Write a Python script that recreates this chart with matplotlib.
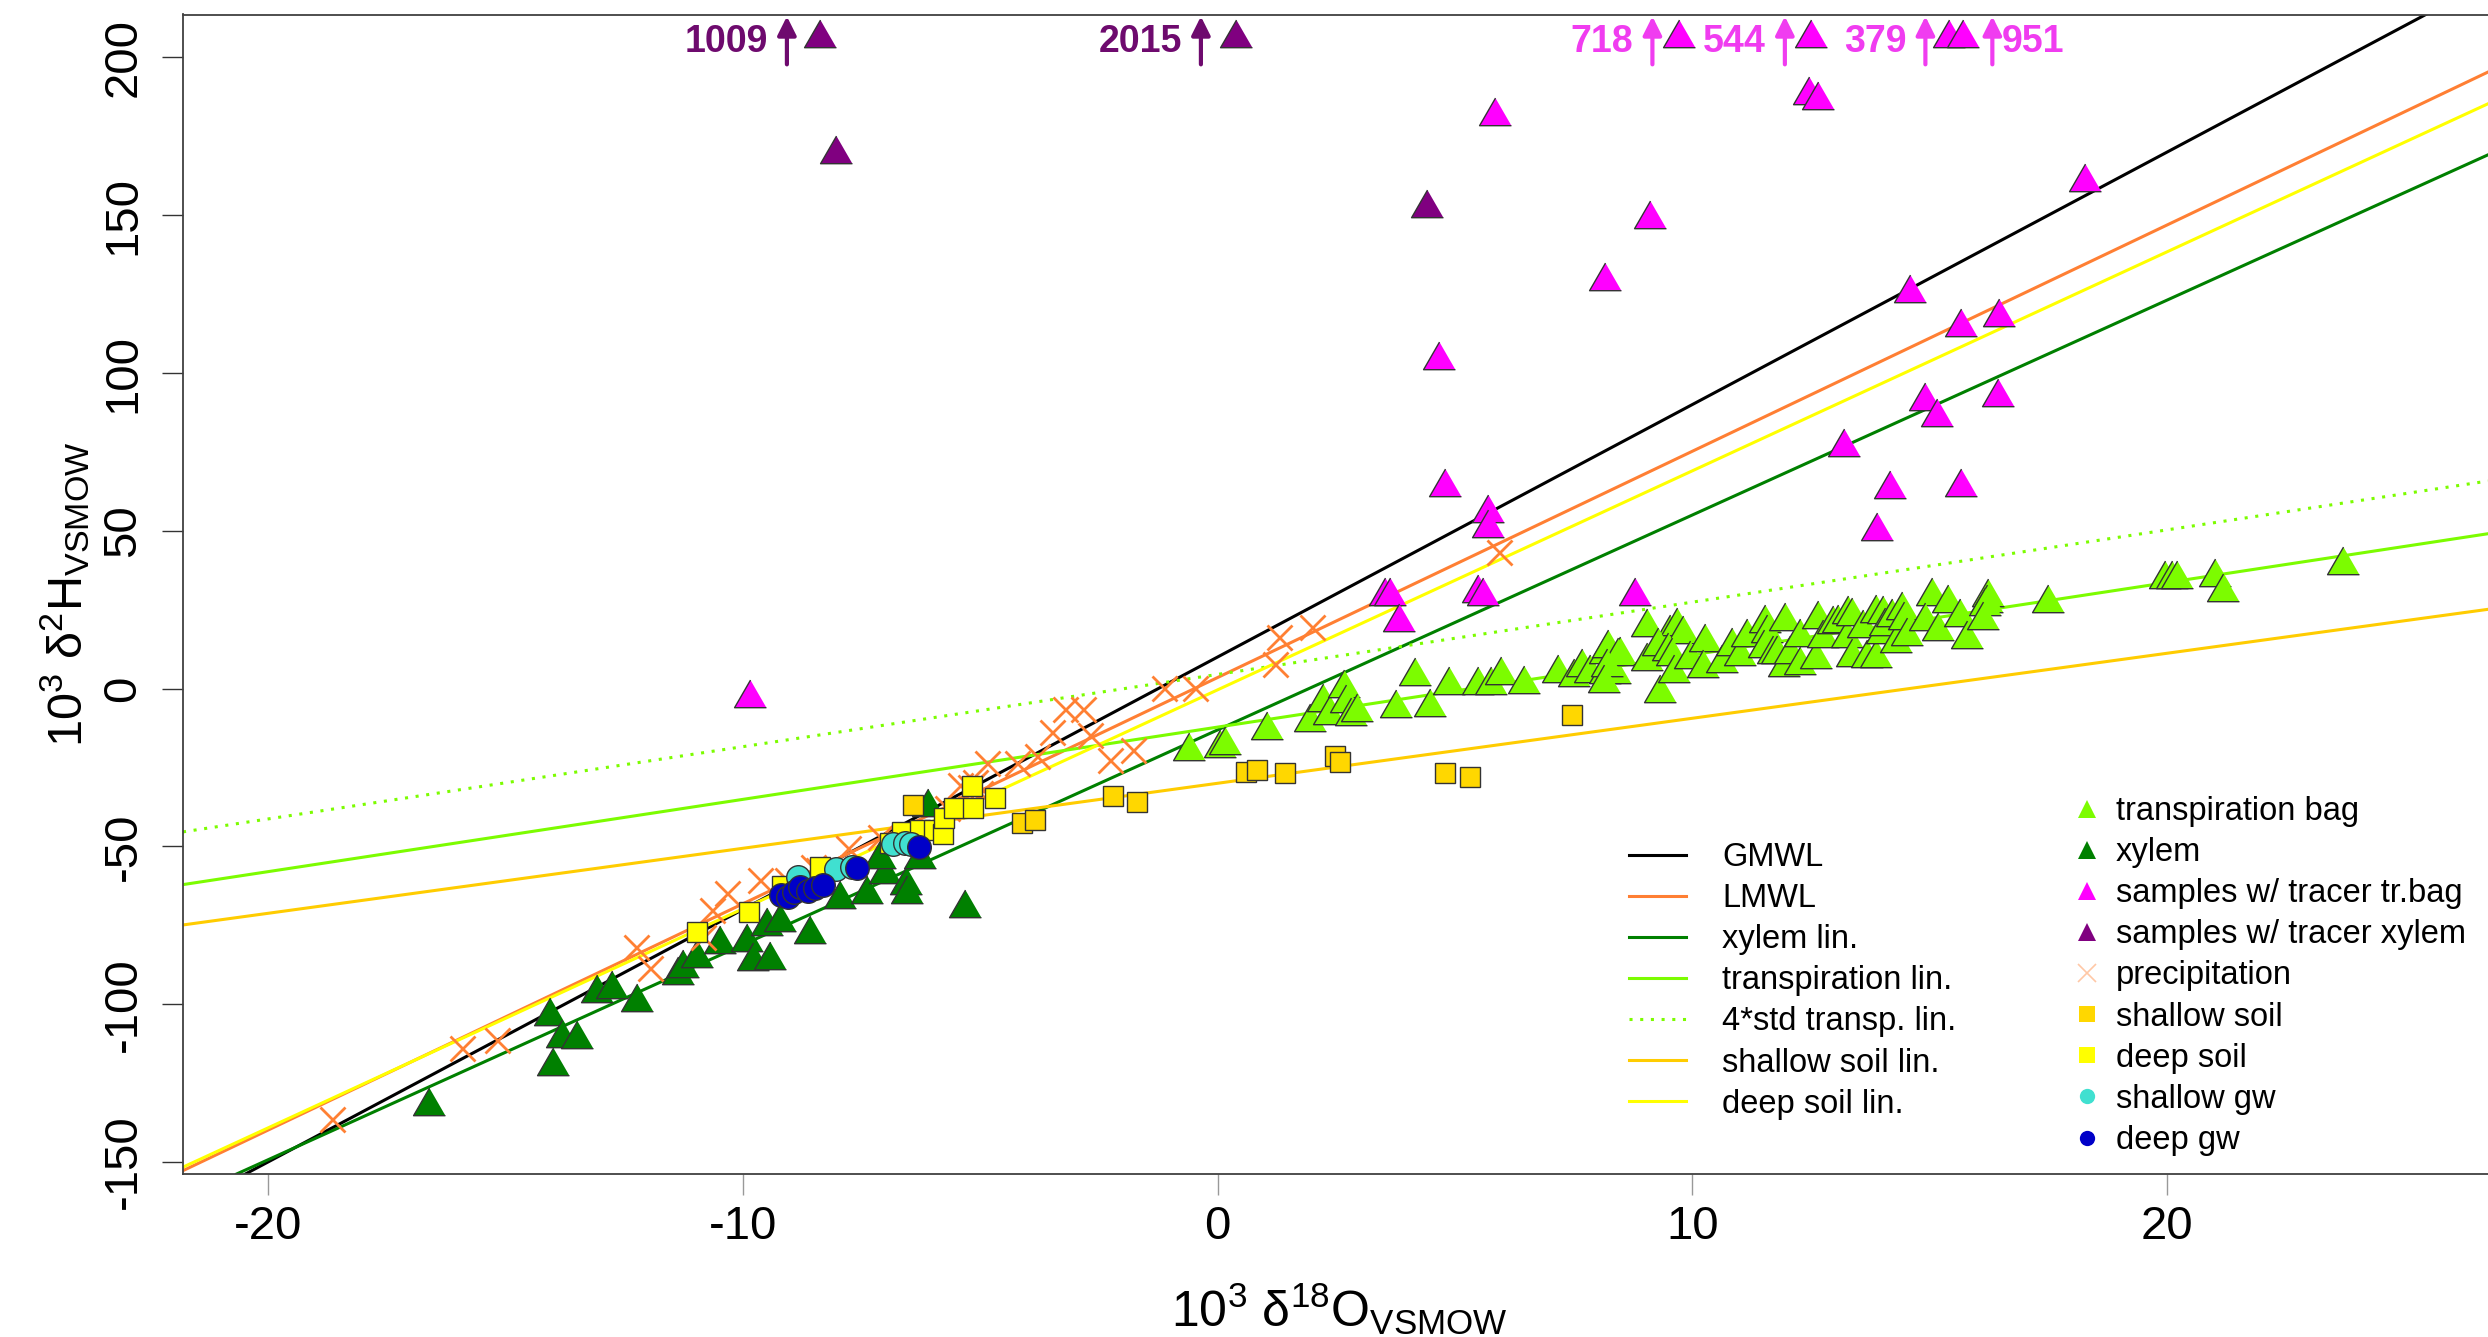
import numpy as np
import matplotlib.pyplot as plt
from matplotlib.lines import Line2D

plt.rcParams['font.family'] = ['Liberation Sans', 'DejaVu Sans']
plt.rcParams['mathtext.fontset'] = 'custom'
plt.rcParams['mathtext.rm'] = 'Liberation Sans'
plt.rcParams['mathtext.it'] = 'Liberation Sans'
plt.rcParams['mathtext.bf'] = 'Liberation Sans:bold'
plt.rcParams['axes.unicode_minus'] = False

# ---- data ----
transp_x = [-0.61, 0.05, 0.15, 1.05, 1.95, 2.23, 2.35, 2.67, 2.71, 2.81, 2.93, 3.75, 4.17, 4.48, 4.88,
            5.49, 5.75, 5.97, 6.46, 7.18, 7.51, 7.67, 7.85, 8.16, 8.23, 8.16, 8.48, 8.37, 9.04, 9.04, 9.32,
            9.53, 9.68, 9.80, 8.44, 8.20, 8.13, 9.28, 9.49, 9.57, 9.61, 9.95, 10.27, 10.23, 10.62, 10.83,
            11.0, 11.15, 11.53, 11.57, 11.50, 11.71, 11.78, 11.94, 11.95, 12.06, 12.27, 12.27, 12.60, 12.65,
            12.76, 12.97, 13.07, 13.25, 13.29, 13.36, 13.36, 13.60, 13.67, 13.88, 14.02, 13.88, 13.99, 14.06,
            14.20, 14.30, 14.41, 14.46, 14.52, 15.04, 14.90, 15.18, 15.39, 15.64, 15.78, 16.23, 16.20, 16.16,
            16.13, 17.5, 19.96, 20.1, 20.2, 21.0, 21.18, 23.7]
transp_y = [-19.9, -18.7, -18.0, -13.1, -10.6, -4.1, -8.3, 0.3, -4.6, -8.7, -7.3, -6.2, 4.0, -5.8, 1.1,
            1.1, 1.1, 4.3, 1.4, 5.1, 3.7, 6.7, 4.8, 11.1, 12.8, 4.6, 10.7, 4.6, 8.8, 19.6, -1.4,
            17.7, 19.9, 17.4, 10.4, 6.7, 1.8, 13.5, 11.9, 10.4, 5.1, 9.3, 14.9, 6.5, 8.0, 13.5,
            10.4, 16.2, 20.9, 17.7, 13.0, 10.9, 10.9, 6.7, 21.5, 10.9, 16.4, 7.5, 9.3, 22.0,
            16.0, 20.6, 20.9, 16.0, 23.6, 23.0, 10.0, 19.1, 9.6, 24.1, 23.6, 9.8, 17.2, 19.9,
            22.7, 14.6, 24.8, 21.7, 16.7, 29.4, 21.5, 18.1, 27.0, 22.7, 15.6, 29.0, 27.2, 26.2,
            21.7, 27.2, 34.7, 34.8, 34.8, 35.4, 30.7, 39.3]

xylem_x = [-16.61, -14.06, -14.0, -13.81, -13.5, -13.07, -12.76, -12.22, -11.36, -11.26, -10.97, -10.48,
           -9.92, -9.78, -9.43, -9.49, -9.21, -8.58, -7.95, -7.39, -7.0, -6.56, -6.55, -6.27, -5.32,
           -7.11, -6.1]
xylem_y = [-132.4, -103.6, -119.5, -110.6, -111.1, -96.5, -95.2, -99.2, -90.9, -88.5, -85.3, -81.0,
           -80.4, -86.3, -86.1, -75.2, -74.0, -77.8, -66.7, -65.0, -58.6, -62.2, -65.0, -54.0, -69.4,
           -54.0, -37.4]

trbag_x = [-9.85, 5.84, 9.11, 8.16, 4.67, 4.79, 5.70, 5.69, 3.53, 3.63, 3.82, 5.49, 5.6, 8.79,
           12.46, 12.65, 13.19, 13.89, 14.16, 14.9, 15.16, 14.59, 15.66, 15.66, 16.47, 16.44, 18.27,
           9.72, 12.49, 15.41, 15.71]
trbag_y = [-3.0, 181.5, 148.8, 129.2, 104.1, 64.0, 55.8, 51.0, 29.2, 29.5, 21.1, 30.3, 29.5, 29.5,
           188.1, 186.5, 76.6, 49.8, 63.3, 91.2, 86.1, 125.2, 114.6, 63.9, 117.8, 92.4, 160.4,
           206, 206, 206, 206]

trxyl_x = [-8.03, 4.41, -8.37, 0.39]
trxyl_y = [169.4, 152.3, 206, 206]

precip_x = [-18.66, -15.92, -15.18, -12.25, -11.95, -10.83, -10.65, -10.34, -9.64, -9.07, -8.51, -8.41,
            -7.78, -7.11, -5.70, -5.42, -5.11, -5.21, -5.0, -4.86, -4.23, -3.81, -3.21, -2.83, -3.49,
            -2.69, -2.26, -1.77, -1.13, -0.47, 1.21, 1.30, 1.98, 5.93]
precip_y = [-136.5, -113.9, -111.3, -81.9, -88.6, -78.6, -70.1, -64.8, -60.6, -60.6, -56.4, -57.4,
            -50.6, -46.9, -37.9, -30.5, -29.5, -31.1, -33.1, -23.6, -23.6, -21.5, -6.6, -6.6, -13.6,
            -14.7, -22.6, -19.4, 0.1, 0.1, 7.8, 16.2, 19.6, 43.3]

shsoil_x = [-6.41, -4.12, -3.84, -2.21, -1.70, 0.61, 0.83, 1.42, 2.47, 2.58, 4.79, 5.32, 7.46]
shsoil_y = [-36.9, -42.7, -41.6, -33.9, -35.8, -26.3, -25.8, -26.6, -21.5, -23.1, -26.8, -27.9, -8.3]

dpsoil_x = [-10.96, -9.87, -9.18, -8.37, -6.90, -6.65, -6.27, -5.98, -5.78, -5.76, -5.56, -5.14, -5.18, -4.68]
dpsoil_y = [-77.0, -70.9, -62.7, -56.4, -49.0, -45.3, -44.8, -44.8, -46.0, -41.1, -37.9, -37.9, -31.0, -34.7]

shgw_x = [-8.83, -8.04, -7.69, -6.83, -6.58, -6.45]
shgw_y = [-59.6, -57.3, -56.4, -49.2, -48.8, -49.2]

dpgw_x = [-9.20, -9.04, -8.93, -8.79, -8.62, -8.48, -8.30, -7.60, -6.28]
dpgw_y = [-65.4, -65.9, -64.3, -62.9, -64.0, -63.3, -62.2, -56.9, -50.1]

# regression lines: slope, intercept
line_names = ['GMWL', 'LMWL', 'xylem lin.', 'transpiration lin.', '4*std transp. lin.',
              'shallow soil lin.', 'deep soil lin.']
line_slopes = [8.0, 7.17, 6.81, 2.29, 2.29, 2.06, 6.94]
line_icepts = [10.0, 3.5, -13.1, -12.2, 4.5, -30.0, -0.4]
line_colors = ['black', '#FF7F33', '#008000', '#7CFC00', '#7CFC00', '#FFCC00', '#FFFF00']
line_styles = ['-', '-', '-', '-', ':', '-', '-']

# off-scale values at the top
off_x = [-9.07, -0.35, 9.16, 11.95, 14.91, 16.32]
off_lab = ['1009', '2015', '718', '544', '379', '951']
off_col = ['#6E0A6E', '#6E0A6E', '#F03CF0', '#F03CF0', '#F03CF0', '#F03CF0']

# ---- figure ----
fig = plt.figure(figsize=(24.88, 13.37), dpi=100)
ax = fig.add_axes([183/2488, 1-1174/1337, (2488-183)/2488, (1174-14.5)/1337])
ax.set_xlim(-21.79, 26.76)
ax.set_ylim(-153.8, 213.6)

for m, b, c, ls in zip(line_slopes, line_icepts, line_colors, line_styles):
    ax.axline((0, b), slope=m, color=c, lw=2.2, ls=ls, zorder=2,
              dashes=(1, 2.5) if ls == ':' else (None, None))

tri = [(0, 1), (-0.866, -0.5), (0.866, -0.5)]
ek = dict(ls='none', mec='#333333', mew=1.0, zorder=3)
ax.plot(transp_x, transp_y, marker=tri, ms=26.5, mfc='#7CFC00', **ek)
ax.plot(xylem_x, xylem_y, marker=tri, ms=26.5, mfc='#008000', **ek)
ax.plot(trbag_x, trbag_y, marker=tri, ms=26.5, mfc='#FF00FF', clip_on=False, **ek)
ax.plot(trxyl_x, trxyl_y, marker=tri, ms=26.5, mfc='#800080', clip_on=False, **ek)
ax.plot(precip_x, precip_y, marker='x', ms=18, mew=2.0, color='#FF8033', ls='none', zorder=3)
ax.plot(shsoil_x, shsoil_y, marker='s', ms=15, mfc='#FFD700', **ek)
ax.plot(dpsoil_x, dpsoil_y, marker='s', ms=15, mfc='#FFFF00', **ek)
ax.plot(shgw_x, shgw_y, marker='o', ms=17, mfc='#40E0D0', **ek)
ax.plot(dpgw_x, dpgw_y, marker='o', ms=17, mfc='#0000C8', **ek)

for x, lab, c in zip(off_x, off_lab, off_col):
    ax.annotate('', xy=(x, 213.0), xytext=(x, 197.8),
                arrowprops=dict(arrowstyle='-|>', color=c, lw=3, mutation_scale=28, shrinkA=0, shrinkB=0))
    if lab == '951':
        ax.text(x + 0.2, 205, lab, color=c, fontsize=27, fontweight='bold', ha='left', va='center')
    else:
        ax.text(x - 0.4, 205, lab, color=c, fontsize=27, fontweight='bold', ha='right', va='center')

# axes styling
for s in ['left', 'bottom', 'top']:
    ax.spines[s].set_color('#404040')
    ax.spines[s].set_linewidth(1.3)
ax.spines['right'].set_visible(False)
ax.set_xticks([-20, -10, 0, 10, 20])
ax.set_yticks([-150, -100, -50, 0, 50, 100, 150, 200])
ax.tick_params(axis='x', direction='out', length=15, width=1, color='#999999', labelsize=34, pad=7)
ax.tick_params(axis='y', direction='out', length=15, width=1, color='#333333', labelsize=34, pad=12,
               labelrotation=90)
for lab in ax.get_yticklabels():
    lab.set_va('center')

fig.text(1339/2488, 1-1309/1337, r'$\mathrm{10^3\ \delta^{18}O_{VSMOW}}$', fontsize=36,
         ha='center', va='center')
fig.text(65/2488, 1-594/1337, r'$\mathrm{10^3\ \delta^{2}H_{VSMOW}}$', fontsize=35,
         ha='center', va='center', rotation=90)

# legends
h1 = [Line2D([], [], color=c, lw=2.2, ls=ls, dashes=(1, 2.5) if ls == ':' else (None, None))
      for c, ls in zip(line_colors, line_styles)]
leg1 = fig.legend(h1, line_names, loc='upper left', bbox_to_anchor=(1629/2488, 1-842/1337),
                  frameon=False, fontsize=23.5, handlelength=1.75, handletextpad=1.1,
                  labelspacing=0.31, borderpad=0, borderaxespad=0)

pt_names = ['transpiration bag', 'xylem', 'samples w/ tracer tr.bag', 'samples w/ tracer xylem',
            'precipitation', 'shallow soil', 'deep soil', 'shallow gw', 'deep gw']
pt_marks = ['^', '^', '^', '^', 'x', 's', 's', 'o', 'o']
pt_cols = ['#7CFC00', '#008000', '#FF00FF', '#800080', '#FFC8A6', '#FFD700', '#FFFF00', '#40E0D0', '#0000C8']
pt_ms = [13, 13, 13, 13, 13, 11, 11, 11, 11]
h2 = [Line2D([], [], ls='none', marker=mk, ms=s, color=c, mew=1.2 if mk == 'x' else 0)
      for mk, c, s in zip(pt_marks, pt_cols, pt_ms)]
leg2 = fig.legend(h2, pt_names, loc='upper left', bbox_to_anchor=(2072/2488, 1-796/1337),
                  frameon=False, fontsize=23.5, handlelength=0.9, handletextpad=0.45,
                  labelspacing=0.31, borderpad=0, borderaxespad=0)

fig.savefig('out.png', dpi=100)
